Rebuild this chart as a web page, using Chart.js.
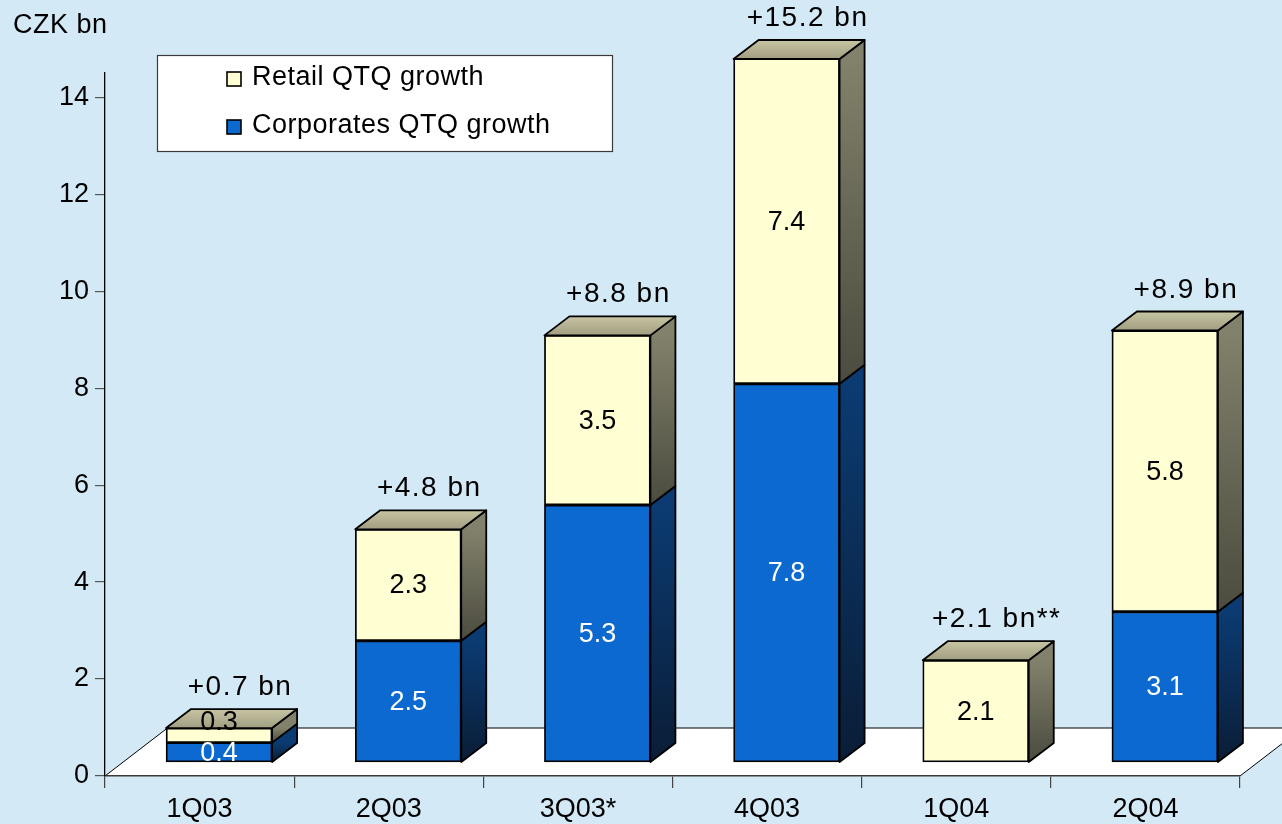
<!DOCTYPE html>
<html><head><meta charset="utf-8">
<script src="https://cdn.jsdelivr.net/npm/chart.js@4.4.1/dist/chart.umd.min.js"></script>
<style>html,body{margin:0;padding:0;background:#d3eaf6;overflow:hidden}canvas{display:block}</style>
</head><body>
<canvas id="c" width="1282" height="824"></canvas>
<script>
// ---- data ----
const categories = ['1Q03', '2Q03', '3Q03*', '4Q03', '1Q04', '2Q04'];
const corporates = [0.4, 2.5, 5.3, 7.8, null, 3.1];
const retail = [0.3, 2.3, 3.5, 7.4, 2.1, 5.8];
const totalSuffix = ['', '', '', '', '**', ''];
const yTicks = [0, 2, 4, 6, 8, 10, 12, 14];
const seriesNames = ['Corporates QTQ growth', 'Retail QTQ growth'];
const unitLabel = 'CZK bn';

// ---- layout / style ----
const Y_MAX = 14.5;
const PLOT = { left: 105, right: 1240, top: 73, bottom: 776 };
const FRONT_SHIFT = { x: 19.5, y: 14 };     // bar front plane offset in 3D
const DEPTH = { dx: 25, dy: -19 };           // bar depth projection
const FLOOR = { dx: 62.5, dy: -48 };         // floor depth projection
const BAR_W = 106;
const FONT = '"Liberation Sans", Arial, Helvetica, sans-serif';
const BG = '#d3eaf6';
const COLORS = {
  corp: { front: '#0c69cf', sideTop: '#0b3b72', sideBot: '#0a1d36', topBack: '#3f79bd', topFront: '#1d4f8f', label: '#ffffff' },
  retail: { front: '#ffffd3', sideTop: '#82816b', sideBot: '#4b4b3f', topBack: '#c8c5a3', topFront: '#a19e82', label: '#000000' }
};

const pxPerUnitY = (PLOT.bottom - PLOT.top) / Y_MAX;
const ybMin = -FRONT_SHIFT.y / pxPerUnitY;
const pxPerCat = (PLOT.right - PLOT.left) / categories.length;
const xbMin = -0.5 - FRONT_SHIFT.x / pxPerCat;
const xbMax = categories.length - 0.5 - FRONT_SHIFT.x / pxPerCat;

Chart.defaults.font.family = FONT;
Chart.defaults.font.size = 27;
Chart.defaults.color = '#000';

const styleKeys = ['corp', 'retail'];

const bgFloorPlugin = {
  id: 'bgFloor',
  beforeDraw(chart) {
    const ctx = chart.ctx, a = chart.chartArea;
    ctx.save();
    ctx.fillStyle = BG;
    ctx.fillRect(0, 0, chart.width, chart.height);
    ctx.beginPath();
    ctx.moveTo(a.left, a.bottom);
    ctx.lineTo(a.left + FLOOR.dx, a.bottom + FLOOR.dy);
    ctx.lineTo(a.right + FLOOR.dx, a.bottom + FLOOR.dy);
    ctx.lineTo(a.right, a.bottom);
    ctx.closePath();
    ctx.fillStyle = '#ffffff';
    ctx.fill();
    ctx.strokeStyle = '#000';
    ctx.lineWidth = 1;
    ctx.beginPath();
    ctx.moveTo(a.left, a.bottom);
    ctx.lineTo(a.left + FLOOR.dx, a.bottom + FLOOR.dy);
    ctx.lineTo(a.right + FLOOR.dx, a.bottom + FLOOR.dy);
    ctx.moveTo(a.right, a.bottom);
    ctx.lineTo(a.right + FLOOR.dx, a.bottom + FLOOR.dy);
    ctx.stroke();
    ctx.restore();
  }
};

const bars3dPlugin = {
  id: 'bars3d',
  afterDatasetsDraw(chart) {
    const ctx = chart.ctx;
    const yb = chart.scales.yb;
    const clipTop = yb.getPixelForValue(Y_MAX);
    const n = categories.length;
    const nd = chart.data.datasets.length;
    const geo = [];
    for (let d = 0; d < nd; d++) {
      const meta = chart.getDatasetMeta(d);
      geo[d] = meta.data.map((el, i) => {
        const raw = chart.data.datasets[d].data[i].y;
        if (raw === null || raw === undefined) return null;
        const p = el.getProps(['x', 'y', 'base', 'width'], true);
        const top = Math.max(Math.min(p.y, p.base), clipTop);
        const bot = Math.max(p.y, p.base);
        return { x: p.x, w: p.width, top, bot, v: raw };
      });
    }
    ctx.save();
    ctx.lineJoin = 'round';
    ctx.lineWidth = 1.8;
    ctx.strokeStyle = '#000';
    for (let i = 0; i < n; i++) {
      let topmost = -1;
      for (let d = 0; d < nd; d++) {
        const g = geo[d][i];
        if (!g) continue;
        topmost = d;
        const c = COLORS[styleKeys[d]];
        const r = g.x + g.w / 2;
        const grad = ctx.createLinearGradient(0, g.top, 0, g.bot);
        grad.addColorStop(0, c.sideTop);
        grad.addColorStop(1, c.sideBot);
        ctx.beginPath();
        ctx.moveTo(r, g.top);
        ctx.lineTo(r + DEPTH.dx, g.top + DEPTH.dy);
        ctx.lineTo(r + DEPTH.dx, g.bot + DEPTH.dy);
        ctx.lineTo(r, g.bot);
        ctx.closePath();
        ctx.fillStyle = grad;
        ctx.fill();
        ctx.stroke();
      }
      if (topmost >= 0) {
        const g = geo[topmost][i];
        const c = COLORS[styleKeys[topmost]];
        const l = g.x - g.w / 2, r = g.x + g.w / 2;
        const grad = ctx.createLinearGradient(0, g.top + DEPTH.dy, 0, g.top);
        grad.addColorStop(0, c.topBack);
        grad.addColorStop(1, c.topFront);
        ctx.beginPath();
        ctx.moveTo(l, g.top);
        ctx.lineTo(l + DEPTH.dx, g.top + DEPTH.dy);
        ctx.lineTo(r + DEPTH.dx, g.top + DEPTH.dy);
        ctx.lineTo(r, g.top);
        ctx.closePath();
        ctx.fillStyle = grad;
        ctx.fill();
        ctx.stroke();
      }
    }
    // value labels (front face centre, pushed up if they would collide)
    ctx.textAlign = 'center';
    ctx.textBaseline = 'middle';
    ctx.font = '27px ' + FONT;
    const LH = 31;
    for (let i = 0; i < n; i++) {
      let prev = Infinity;
      for (let d = 0; d < nd; d++) {
        const g = geo[d][i];
        if (!g) continue;
        let cy = (g.top + g.bot) / 2;
        if (cy > prev - LH) cy = prev - LH;
        prev = cy;
        ctx.fillStyle = COLORS[styleKeys[d]].label;
        ctx.fillText(g.v.toFixed(1), g.x, cy + 1);
      }
    }
    // totals
    ctx.font = '28px ' + FONT;
    ctx.letterSpacing = '1.5px';
    ctx.textBaseline = 'alphabetic';
    ctx.fillStyle = '#000';
    for (let i = 0; i < n; i++) {
      let total = 0, g = null;
      for (let d = 0; d < nd; d++) {
        const v = chart.data.datasets[d].data[i].y;
        if (v !== null && v !== undefined) total += v;
        if (geo[d][i]) g = geo[d][i];
      }
      if (!g) continue;
      const txt = '+' + total.toFixed(1) + ' bn' + totalSuffix[i];
      ctx.fillText(txt, g.x + 21, g.top + DEPTH.dy - 14);
    }
    ctx.restore();
  }
};

const legendTitlePlugin = {
  id: 'legendTitle',
  afterDraw(chart) {
    const ctx = chart.ctx;
    ctx.save();
    ctx.font = '27px ' + FONT;
    ctx.letterSpacing = '0.5px';
    ctx.fillStyle = '#000';
    ctx.textBaseline = 'alphabetic';
    ctx.textAlign = 'left';
    ctx.fillText(unitLabel, 13, 33);
    // legend box
    ctx.fillStyle = '#ffffff';
    ctx.fillRect(157, 55, 455, 96);
    ctx.strokeStyle = '#3a3a3a';
    ctx.lineWidth = 1.2;
    ctx.strokeRect(157.5, 55.5, 455, 96);
    const ds = chart.data.datasets;
    let row = 0;
    for (let d = ds.length - 1; d >= 0; d--) {
      const cy = 77 + row * 48;
      ctx.fillStyle = COLORS[styleKeys[d]].front;
      ctx.fillRect(227, cy - 5, 14, 14);
      ctx.strokeStyle = '#000';
      ctx.lineWidth = 1.6;
      ctx.strokeRect(227, cy - 5, 14, 14);
      ctx.fillStyle = '#000';
      ctx.textBaseline = 'middle';
      ctx.fillText(ds[d].label, 252, cy + 1);
      row++;
    }
    ctx.restore();
  }
};

function makeDataset(name, values, key) {
  const c = COLORS[key];
  return {
    label: name,
    data: values.map((v, i) => ({ x: i, y: v })),
    backgroundColor: c.front,
    borderColor: '#000',
    borderWidth: 1.8,
    borderSkipped: false,
    barThickness: BAR_W,
    xAxisID: 'xb',
    yAxisID: 'yb',
    clip: { left: false, right: false, bottom: false, top: FRONT_SHIFT.y }
  };
}

new Chart(document.getElementById('c'), {
  type: 'bar',
  data: {
    labels: categories,
    datasets: [
      makeDataset(seriesNames[0], corporates, 'corp'),
      makeDataset(seriesNames[1], retail, 'retail')
    ]
  },
  options: {
    responsive: false,
    animation: false,
    devicePixelRatio: 1,
    layout: { padding: { left: 0, right: 1282 - PLOT.right, top: PLOT.top, bottom: 0 } },
    plugins: { legend: { display: false }, tooltip: { enabled: false }, title: { display: false } },
    scales: {
      x: {
        type: 'category', position: 'bottom', offset: true,
        grid: { offset: true, drawOnChartArea: false, drawTicks: true, tickLength: 12, color: '#444', lineWidth: 1.2 },
        border: { display: true, color: '#3a3a3a', width: 1.5 },
        ticks: { font: { size: 27 }, color: '#000', padding: 5, maxRotation: 0, autoSkip: false },
        afterFit: s => { s.height = 824 - PLOT.bottom; }
      },
      y: {
        type: 'linear', position: 'left', min: 0, max: Y_MAX,
        afterBuildTicks: s => { s.ticks = yTicks.map(v => ({ value: v })); },
        grid: { drawOnChartArea: false, drawTicks: true, tickLength: 10, color: '#555', lineWidth: 1.2 },
        border: { display: true, color: '#000', width: 1.3 },
        ticks: { font: { size: 27 }, color: '#000', padding: 6 },
        afterFit: s => { s.width = PLOT.left; }
      },
      xb: {
        type: 'linear', display: false, stacked: true, offset: false,
        min: xbMin, max: xbMax,
        afterBuildTicks: s => { s.ticks = categories.map((_, i) => ({ value: i })); }
      },
      yb: {
        type: 'linear', display: false, stacked: true,
        min: ybMin, max: Y_MAX + ybMin
      }
    }
  },
  plugins: [bgFloorPlugin, bars3dPlugin, legendTitlePlugin]
});
</script>
</body></html>
